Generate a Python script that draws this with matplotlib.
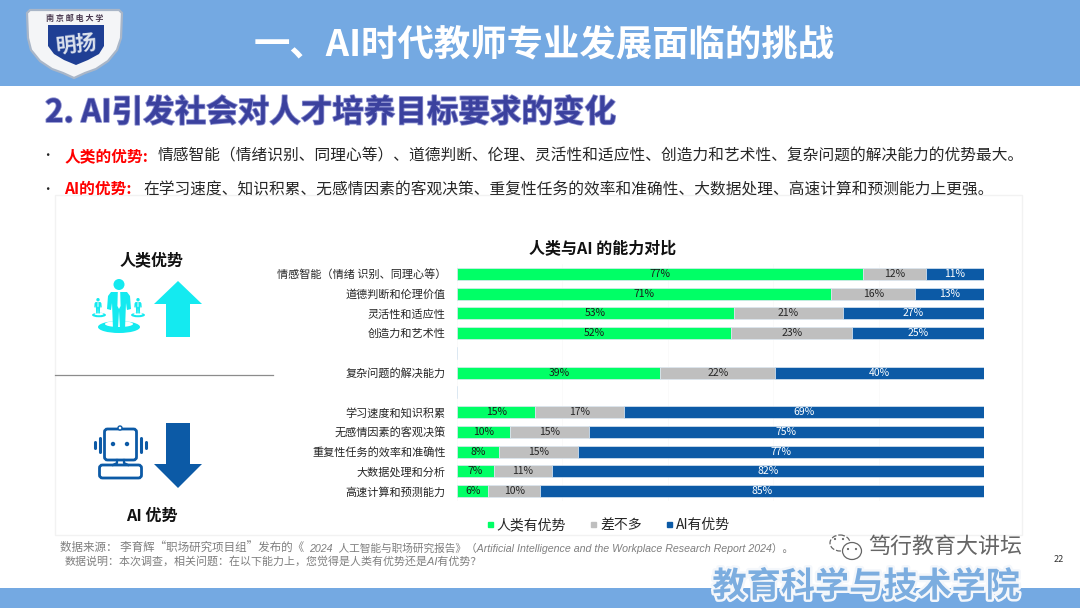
import matplotlib
matplotlib.use("Agg")
import matplotlib.pyplot as plt
import matplotlib.patheffects as pe
from matplotlib.lines import Line2D
from matplotlib.patches import Circle, Ellipse, FancyBboxPatch, Polygon, Rectangle
import numpy as np

plt.rcParams["font.family"] = ["Noto Sans CJK SC", "DejaVu Sans"]

# Chart data, top row first. Empty names are the spacer rows between the groups
categories = [
    "情感智能（情绪 识别、同理心等）", "道德判断和伦理价值", "灵活性和适应性", "创造力和艺术性", "",
    "复杂问题的解决能力", "",
    "学习速度和知识积累", "无感情因素的客观决策", "重复性任务的效率和准确性", "大数据处理和分析", "高速计算和预测能力",
]
human_better = [77, 71, 53, 52, 0, 39, 0, 15, 10, 8, 7, 6]
about_same = [12, 16, 21, 23, 0, 22, 0, 17, 15, 15, 11, 10]
ai_better = [11, 13, 27, 25, 0, 40, 0, 69, 75, 77, 82, 85]
series_names = ["人类有优势", "差不多", "AI有优势"]

GREEN = "#00FF66"
GREY = "#BFBFBF"
BLUE = "#0C5AA6"
CYAN = "#14EAF0"
BAND = "#74A9E2"
INDIGO = "#3B419E"

fig = plt.figure(figsize=(10.8, 6.08), dpi=100, facecolor="white")

# Slide background in pixel coordinates
bg = fig.add_axes([0, 0, 1, 1])
bg.set_xlim(0, 1080)
bg.set_ylim(608, 0)
bg.axis("off")

bg.add_patch(Rectangle((0, 0), 1080, 86, color=BAND, lw=0))
bg.add_patch(Rectangle((0, 588), 1080, 20, color=BAND, lw=0))
bg.add_patch(Rectangle((55, 195), 967, 340, fc="white", ec="#F2F2F2", lw=1))

# School badge
shield = [(27, 13), (30, 10), (119, 10), (122, 13), (121, 38), (117, 50), (108, 61), (96, 69), (85, 73), (74, 78),
          (63, 73), (52, 69), (40, 61), (31, 50), (28, 38)]
bg.add_patch(Polygon(shield, fc="#F4F5F7", ec="#A9B6C8", lw=1.6))
inner = [(48, 25), (104, 25), (104, 46), (99, 54), (88, 60), (76, 65), (64, 60), (54, 54), (48, 46)]
bg.add_patch(Polygon(inner, fc="#1F3F94", ec="none"))
bg.text(75, 18, "南 京 邮 电 大 学", color="#4A3A50", fontsize=5.8, fontweight="bold", ha="center", va="center")
bg.text(76, 45, "明扬", color="#DDE3EE", fontsize=15, fontweight="bold", ha="center", va="center", rotation=6)

# Heading texts
bg.text(544, 45, "一、AI时代教师专业发展面临的挑战", color="white", fontsize=26.2, fontweight="bold", ha="center", va="center")
bg.text(45, 113, "2. AI引发社会对人才培养目标要求的变化", color=INDIGO, fontsize=22.7, fontweight="bold", va="center",
        path_effects=[pe.withStroke(linewidth=1.2, foreground="#8C90D0")])

bg.text(47, 156, "•", fontsize=9, color="#222222", ha="center", va="center")
bg.text(65, 161, "人类的优势:", fontsize=11.3, color="#FF0000", fontweight="bold", va="baseline")
bg.text(158, 161, "情感智能（情绪识别、同理心等）、道德判断、伦理、灵活性和适应性、创造力和艺术性、复杂问题的解决能力的优势最大。",
        fontsize=11.3, color="#262626", va="baseline")
bg.text(47, 189, "•", fontsize=9, color="#222222", ha="center", va="center")
bg.text(64, 194, "AI的优势:", fontsize=11.3, color="#FF0000", fontweight="bold", va="baseline")
bg.text(143, 194, "在学习速度、知识积累、无感情因素的客观决策、重复性任务的效率和准确性、大数据处理、高速计算和预测能力上更强。",
        fontsize=11.3, color="#262626", va="baseline")

# Left panel
bg.text(152, 260, "人类优势", fontsize=11.5, fontweight="bold", color="#111111", ha="center", va="center")
bg.text(152, 516, "AI 优势", fontsize=11.6, fontweight="bold", color="#111111", ha="center", va="center")
bg.plot([55, 273], [375, 375], color="#8C8C8C", lw=0.9)

bg.add_patch(Polygon([(178, 281), (202, 304), (190, 304), (190, 337), (166, 337), (166, 304), (154, 304)], fc=CYAN, ec="none"))
bg.add_patch(Polygon([(166, 423), (190, 423), (190, 464), (202, 464), (178, 488), (154, 464), (166, 464)], fc=BLUE, ec="none"))


def draw_person(cx, top, scale):
    bg.add_patch(Circle((cx, top + 5.5 * scale), 5.5 * scale, fc=CYAN, ec="none"))
    body = [(-8, 13), (8, 13), (11, 17), (12, 30), (8, 31), (7, 24), (6, 50), (1, 50), (0, 32), (-1, 50), (-6, 50),
            (-7, 24), (-8, 31), (-12, 30), (-11, 17)]
    pts = [(cx + x * scale, top + y * scale) for x, y in body]
    bg.add_patch(Polygon(pts, fc=CYAN, ec="none"))
    tie = [(-1.2, 13), (1.2, 13), (1.6, 27), (0, 30), (-1.6, 27)]
    bg.add_patch(Polygon([(cx + x * scale, top + y * scale) for x, y in tie], fc="white", ec="none"))


bg.add_patch(Ellipse((119, 327), 42, 12, fc=CYAN, ec="none"))
bg.add_patch(Ellipse((99, 315), 14, 4.5, fc=CYAN, ec="none"))
bg.add_patch(Ellipse((138, 315), 14, 4.5, fc=CYAN, ec="none"))
bg.add_patch(Ellipse((99, 314), 9, 2.5, fc="white", ec="none"))
bg.add_patch(Ellipse((138, 314), 9, 2.5, fc="white", ec="none"))
bg.add_patch(Ellipse((119, 324), 28, 6, fc="white", ec="none"))
draw_person(98, 298, 0.31)
draw_person(138, 298, 0.31)
draw_person(119, 279, 1.0)

# Robot icon
bg.add_patch(FancyBboxPatch((104.5, 429), 32, 31, boxstyle="round,pad=0,rounding_size=3", fc="white", ec=BLUE, lw=2))
bg.add_patch(FancyBboxPatch((99.5, 465), 42, 13, boxstyle="round,pad=0,rounding_size=3", fc="white", ec=BLUE, lw=2))
bg.plot([117, 117, 113], [460, 463, 465], color=BLUE, lw=1.6)
bg.plot([124, 124, 128], [460, 463, 465], color=BLUE, lw=1.6)
bg.add_patch(Circle((113, 444), 2.2, fc=BLUE, ec="none"))
bg.add_patch(Circle((127, 444), 2.2, fc=BLUE, ec="none"))
bg.add_patch(Circle((120, 428), 2, fc="white", ec=BLUE, lw=1))
for x, h in [(94.5, 3), (100, 7), (140.5, 7), (145.5, 3)]:
    bg.plot([x, x], [445 - h, 445 + h], color=BLUE, lw=2.2, solid_capstyle="round")

# Source notes. The quotes are full width in the CJK font, the latin part is italic in Liberation
note_font = ["Liberation Sans", "Noto Sans CJK SC"]
bg.text(60, 548, "数据来源： 李育辉“职场研究项目组”发布的《", fontsize=8.3, color="#7F7F7F", va="center")
bg.text(309, 548, "2024  人工智能与职场研究报告》（Artificial Intelligence and the Workplace Research Report 2024）。",
        fontsize=7.7, style="italic", color="#7F7F7F", va="center", family=note_font)
bg.text(65, 561, "数据说明：本次调查，相关问题：在以下能力上，您觉得是人类有优势还是AI有优势？",
        fontsize=7.9, style="italic", color="#7F7F7F", va="center", family=note_font)
bg.text(1059, 560, "22", fontsize=6.5, color="#333333", ha="center", va="center")

# Watermarks
bg.text(945, 547, "笃行教育大讲坛", fontsize=15.8, color="#666666", ha="center", va="center")
bg.add_patch(Ellipse((840, 543), 20, 16, fc="white", ec="#666666", lw=0.9, ls=(0, (4, 1.5))))
bg.add_patch(Ellipse((852, 551), 19, 17, fc="white", ec="#666666", lw=0.9))
for x, y in [(835, 539), (843, 539), (848, 549), (856, 549)]:
    bg.add_patch(Circle((x, y), 1.1, fc="#666666", ec="none"))
bg.text(866, 586, "教育科学与技术学院", color="#7CADDF", fontsize=24.6, fontweight="bold", ha="center", va="center",
        path_effects=[pe.withStroke(linewidth=3.5, foreground="#F4F7FB")])

# Stacked bars
ax = fig.add_axes([457 / 1080, 1 - 501 / 608, (984 - 457) / 1080, (501 - 264) / 608])
ax.patch.set_alpha(0)
rows = np.arange(len(categories))
human = np.array(human_better, dtype=float)
same = np.array(about_same, dtype=float)
ai = np.array(ai_better, dtype=float)
totals = human + same + ai
totals[totals == 0] = 1

left = np.zeros(len(categories))
for values, color, text_color in [(human, GREEN, "#1A1A1A"), (same, GREY, "#262626"), (ai, BLUE, "white")]:
    shares = values / totals * 100
    ax.barh(rows, shares, left=left, height=0.62, color=color, edgecolor="#DCE8F2", linewidth=0.5, zorder=2)
    for row, value, share, start in zip(rows, values, shares, left):
        if value > 0:
            ax.text(start + share / 2, row, f"{value:.0f}%", color=text_color, fontsize=7.5, ha="center", va="center", zorder=3)
    left = left + shares

ax.set_xlim(0, 100)
ax.set_ylim(len(categories) - 0.5, -0.5)
ax.set_xticks([0, 20, 40, 60, 80, 100])
ax.tick_params(axis="x", length=0, labelbottom=False)
ax.grid(axis="x", color="#F9F9F9", lw=0.5, zorder=0)
ax.set_yticks(rows)
ax.set_yticklabels(categories, fontsize=8.0, color="#262626")
ax.tick_params(axis="y", length=0, pad=8)
for spine in ax.spines.values():
    spine.set_visible(False)

fig.text(603 / 1080, 1 - 248 / 608, "人类与AI 的能力对比", fontsize=11.5, fontweight="bold", color="#111111", ha="center", va="center")

handles = [Line2D([], [], marker="s", linestyle="none", color=c, markersize=3.6) for c in (GREEN, GREY, BLUE)]
fig.legend(handles, series_names, loc="center", bbox_to_anchor=(608 / 1080, 1 - 525 / 608), ncol=3, frameon=False,
           fontsize=10, handlelength=0.5, handletextpad=0.25, columnspacing=1.7, labelcolor="#262626")

fig.savefig("out.png", dpi=100)
